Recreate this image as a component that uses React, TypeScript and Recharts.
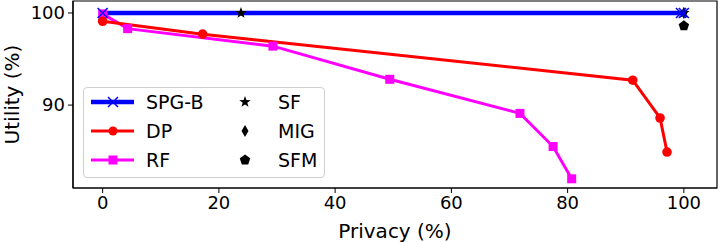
import React from "react";
import {
  ComposedChart,
  Line,
  Scatter,
  XAxis,
  YAxis,
  ReferenceArea,
} from "recharts";

// ─── Data ─────────────────────────────────────────────────────────────────────
const spgbX = [0, 99.5, 100];
const spgbY = [100, 100, 100];

const dpX = [0, 17.2, 91.2, 95.9, 97.1];
const dpY = [99.1, 97.7, 92.7, 88.6, 84.9];

const rfX = [0, 4.3, 29.3, 49.4, 71.8, 77.5, 80.7];
const rfY = [99.9, 98.3, 96.4, 92.8, 89.1, 85.5, 82.0];

const sfX = [23.8, 100];
const sfY = [100, 100];
const migX = [100];
const migY = [100];
const sfmX = [100];
const sfmY = [98.6];

const xTicks = [0, 20, 40, 60, 80, 100];
const yTicks = [90, 100];
const xDomain = [-5.1, 105.7];
const yDomain = [81.0, 101.3];

const toPts = (xs: number[], ys: number[]) => xs.map((x, i) => ({ x, y: ys[i] }));

const spgb = toPts(spgbX, spgbY);
const dp = toPts(dpX, dpY);
const rf = toPts(rfX, rfY);
const sf = toPts(sfX, sfY);
const mig = toPts(migX, migY);
const sfm = toPts(sfmX, sfmY);

const BLUE = "#0000ff";
const RED = "#ff0000";
const MAGENTA = "#ff00ff";
const FONT = "DejaVu Sans, sans-serif";

// ─── Marker shapes ────────────────────────────────────────────────────────────
function XMark({ cx, cy, r = 5 }: any) {
  return (
    <g stroke={BLUE} strokeWidth={1.5}>
      <line x1={cx - r} y1={cy - r} x2={cx + r} y2={cy + r} />
      <line x1={cx - r} y1={cy + r} x2={cx + r} y2={cy - r} />
    </g>
  );
}

function starPath(cx: number, cy: number, R: number) {
  const r = R * 0.4;
  const pts: string[] = [];
  for (let i = 0; i < 10; i++) {
    const a = -Math.PI / 2 + (i * Math.PI) / 5;
    const rad = i % 2 === 0 ? R : r;
    pts.push(`${cx + rad * Math.cos(a)},${cy + rad * Math.sin(a)}`);
  }
  return pts.join(" ");
}

function pentPath(cx: number, cy: number, R: number) {
  const pts: string[] = [];
  for (let i = 0; i < 5; i++) {
    const a = -Math.PI / 2 + (i * 2 * Math.PI) / 5;
    pts.push(`${cx + R * Math.cos(a)},${cy + R * Math.sin(a)}`);
  }
  return pts.join(" ");
}

const Star = ({ cx, cy }: any) => <polygon points={starPath(cx, cy, 6)} fill="#000" />;
const Diamond = ({ cx, cy }: any) => (
  <polygon points={`${cx},${cy - 6} ${cx + 3.5},${cy} ${cx},${cy + 6} ${cx - 3.5},${cy}`} fill="#000" />
);
const Pent = ({ cx, cy }: any) => <polygon points={pentPath(cx, cy, 5.5)} fill="#000" />;

// ─── Legend ───────────────────────────────────────────────────────────────────
function LegendBox() {
  const rows1 = [
    { label: "SPG-B", color: BLUE, w: 4.5, mark: "x" },
    { label: "DP", color: RED, w: 3, mark: "o" },
    { label: "RF", color: MAGENTA, w: 3, mark: "s" },
  ];
  const rows2 = [
    { label: "SF", El: Star },
    { label: "MIG", El: Diamond },
    { label: "SFM", El: Pent },
  ];
  return (
    <div
      style={{
        position: "absolute",
        left: 83,
        top: 87,
        width: 242,
        height: 91,
        border: "1px solid #d0d0d0",
        borderRadius: 4,
        background: "rgba(255,255,255,0.85)",
        boxSizing: "border-box",
      }}
    >
      <svg width={242} height={91} style={{ position: "absolute", left: -1, top: -1 }}>
        {rows1.map((r, i) => {
          const y = 15 + i * 29;
          return (
            <g key={r.label}>
              <line x1={8} y1={y} x2={51} y2={y} stroke={r.color} strokeWidth={r.w} />
              {r.mark === "x" && <XMark cx={30} cy={y} r={5} />}
              {r.mark === "o" && <circle cx={30} cy={y} r={4.5} fill={r.color} />}
              {r.mark === "s" && <rect x={25.5} y={y - 4.5} width={9} height={9} fill={r.color} />}
              <text x={63} y={y} dy="0.35em" fontFamily={FONT} fontSize={19} fill="#000">
                {r.label}
              </text>
            </g>
          );
        })}
        {rows2.map((r, i) => {
          const y = 15 + i * 29;
          const El = r.El;
          return (
            <g key={r.label}>
              <El cx={162} cy={y} />
              <text x={195} y={y} dy="0.35em" fontFamily={FONT} fontSize={19} fill="#000">
                {r.label}
              </text>
            </g>
          );
        })}
      </svg>
    </div>
  );
}

// ─── Component ────────────────────────────────────────────────────────────────
export default function App() {
  const tick = { fill: "#000", fontSize: 18, fontFamily: FONT };
  return (
    <div style={{ position: "absolute", left: 0, top: 0, width: 720, height: 242, background: "#fff" }}>
      <ComposedChart width={720} height={242} margin={{ top: 1, right: 3, left: 0, bottom: 0 }}>
        <XAxis
          xAxisId="b"
          dataKey="x"
          type="number"
          domain={xDomain}
          ticks={xTicks}
          allowDataOverflow
          height={54}
          tick={tick}
          tickSize={5}
          tickMargin={3}
          stroke="#000"
          axisLine={{ stroke: "#000", strokeWidth: 1.2 }}
          label={{ value: "Privacy (%)", position: "insideBottom", offset: 4, fill: "#000", fontSize: 20, fontFamily: FONT }}
        />
        <YAxis
          yAxisId="l"
          type="number"
          domain={yDomain}
          ticks={yTicks}
          allowDataOverflow
          width={73}
          tick={tick}
          tickSize={5}
          tickMargin={3}
          stroke="#000"
          axisLine={{ stroke: "#000", strokeWidth: 1.2 }}
          label={{ value: "Utility (%)", angle: -90, position: "insideLeft", offset: 0, dx: 12, fill: "#000", fontSize: 20, fontFamily: FONT, style: { textAnchor: "middle" } }}
        />
        <ReferenceArea
          xAxisId="b"
          yAxisId="l"
          x1={xDomain[0]}
          x2={xDomain[1]}
          y1={yDomain[0]}
          y2={yDomain[1]}
          fill="none"
          stroke="#000"
          strokeWidth={1.2}
          ifOverflow="visible"
        />

        <Line
          xAxisId="b"
          yAxisId="l"
          data={rf}
          dataKey="y"
          stroke={MAGENTA}
          strokeWidth={3}
          isAnimationActive={false}
          dot={(p: any) => <rect key={`rf${p.index}`} x={p.cx - 4.5} y={p.cy - 4.5} width={9} height={9} fill={MAGENTA} />}
          activeDot={false}
        />
        <Line
          xAxisId="b"
          yAxisId="l"
          data={dp}
          dataKey="y"
          stroke={RED}
          strokeWidth={3}
          isAnimationActive={false}
          dot={(p: any) => <circle key={`dp${p.index}`} cx={p.cx} cy={p.cy} r={4.8} fill={RED} />}
          activeDot={false}
        />
        <Scatter xAxisId="b" yAxisId="l" data={sfm} dataKey="y" isAnimationActive={false} shape={(p: any) => <Pent cx={p.cx} cy={p.cy} />} />
        <Scatter xAxisId="b" yAxisId="l" data={mig} dataKey="y" isAnimationActive={false} shape={(p: any) => <Diamond cx={p.cx} cy={p.cy} />} />
        <Scatter xAxisId="b" yAxisId="l" data={sf} dataKey="y" isAnimationActive={false} shape={(p: any) => <Star cx={p.cx} cy={p.cy} />} />
        <Line
          xAxisId="b"
          yAxisId="l"
          data={spgb}
          dataKey="y"
          stroke={BLUE}
          strokeWidth={4.5}
          isAnimationActive={false}
          dot={(p: any) => <XMark key={`sp${p.index}`} cx={p.cx} cy={p.cy} r={5} />}
          activeDot={false}
        />
      </ComposedChart>
      <LegendBox />
    </div>
  );
}
